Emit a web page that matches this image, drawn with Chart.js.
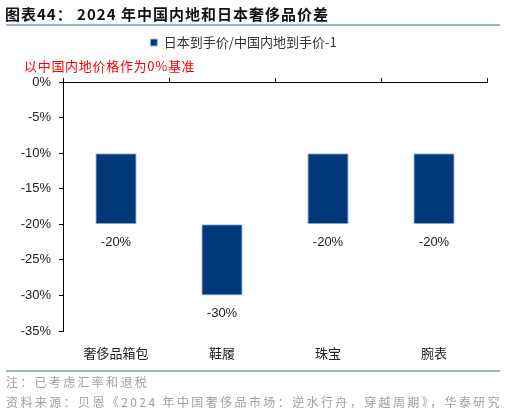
<!DOCTYPE html>
<html>
<head>
<meta charset="utf-8">
<script src="https://cdn.jsdelivr.net/npm/chart.js@4"></script>
<style>
  body { margin: 0; background: #fff; }
  #wrap { position: relative; width: 505px; height: 413px; overflow: hidden; }
  #wrap canvas { position: absolute; left: 0; top: 0; }
  .txt { position: absolute; white-space: nowrap; font-family: "Noto Sans CJK SC", "Liberation Sans", sans-serif; }
  .rule { position: absolute; left: 6px; width: 494px; height: 1.5px; background: #9db5d3; }
</style>
</head>
<body>
<div id="wrap">
  <canvas id="priceChart" width="505" height="413"></canvas>
  <div class="txt" style="left:5px;top:3px;font-size:15px;font-weight:bold;color:#111;letter-spacing:1px;">图表44：&nbsp;2024 年中国内地和日本奢侈品价差</div>
  <div class="rule" style="top:24px;"></div>
  <div class="txt" style="left:24px;top:56px;font-size:13px;color:#ff0000;letter-spacing:0.7px;">以中国内地价格作为0%基准</div>
  <div class="rule" style="top:370px;"></div>
  <div class="txt" style="left:6px;top:373px;font-size:12px;color:#a0a0a0;letter-spacing:2.3px;">注：已考虑汇率和退税</div>
  <div class="txt" style="left:6px;top:393px;font-size:12px;color:#a0a0a0;letter-spacing:2.4px;">资料来源：贝恩《2024 年中国奢侈品市场：逆水行舟，穿越周期》，华泰研究</div>
</div>
<script>
// 品类和价差区间（%）
const categories = ['奢侈品箱包', '鞋履', '珠宝', '腕表'];
const gapTop = [-10, -20, -10, -10];
const gapBottom = [-20, -30, -20, -20];
const yTicks = [0, -5, -10, -15, -20, -25, -30, -35];

const ctx = document.getElementById('priceChart').getContext('2d');

// 柱子下方的数值标签
const barLabels = {
    id: 'barLabels',
    afterDatasetsDraw(chart) {
        const c = chart.ctx;
        const meta = chart.getDatasetMeta(0);
        c.save();
        c.font = '13px "Liberation Sans", Arial, sans-serif';
        c.fillStyle = '#222';
        c.textAlign = 'center';
        c.textBaseline = 'middle';
        meta.data.forEach((bar, i) => {
            const bottom = Math.max(bar.y, bar.base);
            c.fillText(gapBottom[i] + '%', bar.x, bottom + 18);
        });
        c.restore();
    }
};

new Chart(ctx, {
    type: 'bar',
    data: {
        labels: categories,
        datasets: [{
            label: '日本到手价/中国内地到手价-1',
            data: gapTop.map((t, i) => [t, gapBottom[i]]),
            backgroundColor: '#00387a',
            borderColor: '#9fb6d6',
            borderWidth: 1,
            borderSkipped: false,
            barPercentage: 0.39,
            categoryPercentage: 1
        }]
    },
    options: {
        responsive: false,
        animation: false,
        layout: { padding: { top: 26, right: 18, left: 0, bottom: 52 } },
        plugins: {
            tooltip: { enabled: false },
            legend: {
                position: 'top',
                labels: {
                    boxWidth: 7,
                    boxHeight: 7,
                    padding: 10,
                    color: '#333',
                    font: { size: 13, family: '"Noto Sans CJK SC", sans-serif' }
                }
            }
        },
        scales: {
            x: {
                position: 'bottom',
                grid: { display: false },
                border: { display: false },
                ticks: {
                    color: '#222',
                    padding: 6,
                    font: { size: 13, family: '"Noto Sans CJK SC", sans-serif' }
                },
                afterFit: s => { s.height = 30; }
            },
            x2: {
                type: 'category',
                position: 'top',
                labels: categories,
                offset: true,
                grid: { drawOnChartArea: false, tickLength: 4, color: '#000' },
                border: { display: true, color: '#000', width: 1 },
                ticks: { display: false },
                afterFit: s => { s.height = 23; }
            },
            y: {
                min: -35,
                max: 0,
                afterBuildTicks: s => { s.ticks = yTicks.map(v => ({ value: v })); },
                grid: { drawOnChartArea: false, tickLength: 4, color: '#000' },
                border: { display: true, color: '#000', width: 1 },
                ticks: {
                    color: '#222',
                    padding: 8,
                    font: { size: 13, family: '"Liberation Sans", Arial, sans-serif' },
                    callback: v => v + '%'
                },
                afterFit: s => { s.width = 63; }
            }
        }
    },
    plugins: [barLabels]
});
</script>
</body>
</html>
